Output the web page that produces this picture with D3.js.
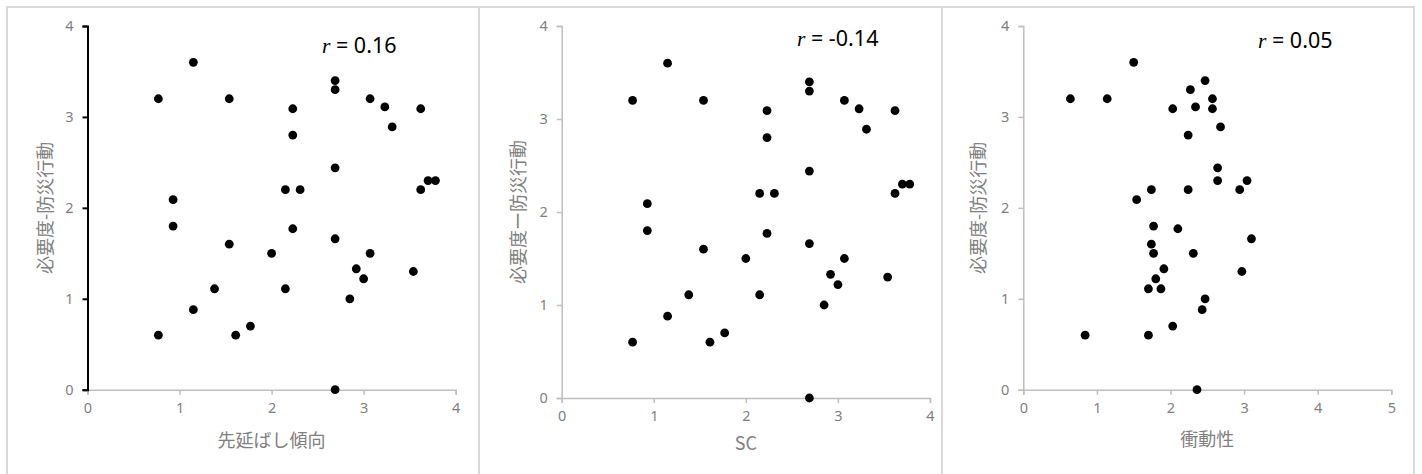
<!DOCTYPE html>
<html>
<head>
<meta charset="utf-8">
<script src="https://cdn.jsdelivr.net/npm/d3@7"></script>
<style>
  body { margin: 0; background: #fff; }
  svg { display: block; }
</style>
</head>
<body>
<svg id="chart"></svg>
<script>
// 必要度-防災行動 (共通のy)
const needAction = [3.6, 3.4, 3.3, 3.2, 3.2, 3.2, 3.11, 3.09, 3.09, 2.89, 2.8, 2.44,
  2.3, 2.3, 2.2, 2.2, 2.2, 2.09, 1.8, 1.77, 1.66, 1.6, 1.5, 1.5, 1.33, 1.3, 1.22,
  1.11, 1.11, 1.0, 0.88, 0.7, 0.6, 0.6, 0];

// 先延ばし傾向
const procrastX = [1.15, 2.69, 2.69, 0.77, 1.54, 3.07, 3.23, 2.23, 3.62, 3.31, 2.23, 2.69,
  3.70, 3.78, 2.15, 2.31, 3.62, 0.93, 0.93, 2.23, 2.69, 1.54, 2.0, 3.07, 2.92, 3.54, 3.0,
  1.38, 2.15, 2.85, 1.15, 1.77, 0.77, 1.61, 2.69];

// SC
const scX = [1.15, 2.69, 2.69, 0.77, 1.54, 3.07, 3.23, 2.23, 3.62, 3.31, 2.23, 2.69,
  3.70, 3.78, 2.15, 2.31, 3.62, 0.93, 0.93, 2.23, 2.69, 1.54, 2.0, 3.07, 2.92, 3.54, 3.0,
  1.38, 2.15, 2.85, 1.15, 1.77, 0.77, 1.61, 2.69];

// 衝動性
const impulsX = [1.50, 2.47, 2.27, 0.64, 1.14, 2.57, 2.34, 2.03, 2.57, 2.68, 2.24, 2.64,
  2.64, 3.04, 1.74, 2.24, 2.94, 1.54, 1.77, 2.10, 3.10, 1.74, 1.77, 2.31, 1.91, 2.97, 1.80,
  1.70, 1.87, 2.47, 2.43, 2.03, 0.84, 1.70, 2.36];

const xTitles = ["先延ばし傾向", "SC", "衝動性"];
const yTitles = ["必要度-防災行動", "必要度ー防災行動", "必要度-防災行動"];
const rLabels = ["0.16", "-0.14", "0.05"];
const xMaxes = [4, 4, 5];
const yTicks = [0, 1, 2, 3, 4];

const W = 1422, H = 474;
const svg = d3.select("#chart").attr("width", W).attr("height", H);
svg.append("rect").attr("width", W).attr("height", H).attr("fill", "#fff");

// 枠線
const frameColor = "#d9d9d9";
svg.append("line").attr("x1", 7).attr("x2", 1414).attr("y1", 7).attr("y2", 7)
  .attr("stroke", frameColor).attr("stroke-width", 2);
[7, 479, 942, 1414].forEach(xv => {
  svg.append("line").attr("x1", xv).attr("x2", xv).attr("y1", 6).attr("y2", H)
    .attr("stroke", frameColor).attr("stroke-width", 2);
});

// パネルの配置
const panels = [
  { xs: procrastX, left: 87.5, right: 455.7, top: 26, bottom: 389.7, yAxisColor: "#000",
    yTitleX: 47, xTitleY: 442, rX: 322, rY: 53 },
  { xs: scX, left: 561.7, right: 930, top: 26, bottom: 398, yAxisColor: "#bfbfbf",
    yTitleX: 520, xTitleY: 445, rX: 797, rY: 46 },
  { xs: impulsX, left: 1023.3, right: 1391.3, top: 26, bottom: 389.7, yAxisColor: "#bfbfbf",
    yTitleX: 980, xTitleY: 441, rX: 1258, rY: 48 }
];

const tickFont = "'Noto Sans', 'DejaVu Sans', sans-serif";
const cjkFont = "'Noto Sans CJK JP', 'Noto Sans', sans-serif";

panels.forEach((p, i) => {
  const x = d3.scaleLinear().domain([0, xMaxes[i]]).range([p.left, p.right]);
  const y = d3.scaleLinear().domain([0, 4]).range([p.bottom, p.top]);

  // x軸
  const gx = svg.append("g")
    .attr("transform", `translate(0, ${p.bottom})`)
    .call(d3.axisBottom(x).ticks(xMaxes[i]).tickSize(5).tickPadding(8).tickFormat(d3.format("d")));
  gx.select(".domain").attr("stroke", "#bfbfbf").attr("stroke-width", 1.5);
  gx.selectAll(".tick line").attr("stroke", "#bfbfbf").attr("stroke-width", 1.5);
  gx.selectAll(".tick text").attr("fill", "#7f7f7f").style("font-family", tickFont).style("font-size", "14.5px");

  // y軸
  const gy = svg.append("g")
    .attr("transform", `translate(${p.left}, 0)`)
    .call(d3.axisLeft(y).tickValues(yTicks).tickSize(5).tickPadding(9).tickFormat(d3.format("d")));
  gy.select(".domain").attr("stroke", p.yAxisColor).attr("stroke-width", i === 0 ? 2 : 1.5);
  gy.selectAll(".tick line").attr("stroke", p.yAxisColor).attr("stroke-width", i === 0 ? 2 : 1.5);
  gy.selectAll(".tick text").attr("fill", "#7f7f7f").style("font-family", tickFont).style("font-size", "14.5px");

  // 点
  svg.append("g").selectAll("circle")
    .data(needAction)
    .join("circle")
    .attr("cx", (d, j) => x(p.xs[j]))
    .attr("cy", d => y(d))
    .attr("r", 4.4)
    .attr("fill", "#000");

  // 軸タイトル
  svg.append("text")
    .attr("x", (p.left + p.right) / 2)
    .attr("y", p.xTitleY)
    .attr("text-anchor", "middle")
    .attr("dominant-baseline", "middle")
    .attr("fill", "#808080")
    .style("font-family", cjkFont)
    .style("font-size", "18px")
    .text(xTitles[i]);

  svg.append("text")
    .attr("transform", `translate(${p.yTitleX}, ${(p.top + p.bottom) / 2}) rotate(-90)`)
    .attr("text-anchor", "middle")
    .attr("dominant-baseline", "middle")
    .attr("fill", "#808080")
    .style("font-family", cjkFont)
    .style("font-size", "18px")
    .text(yTitles[i]);

  // r =
  const rt = svg.append("text")
    .attr("x", p.rX)
    .attr("y", p.rY)
    .attr("fill", "#000")
    .style("font-size", "21.5px");
  rt.append("tspan")
    .style("font-family", "'Liberation Serif', serif")
    .style("font-style", "italic")
    .text("r");
  rt.append("tspan")
    .style("font-family", tickFont)
    .text(" = " + rLabels[i]);
});
</script>
</body>
</html>
